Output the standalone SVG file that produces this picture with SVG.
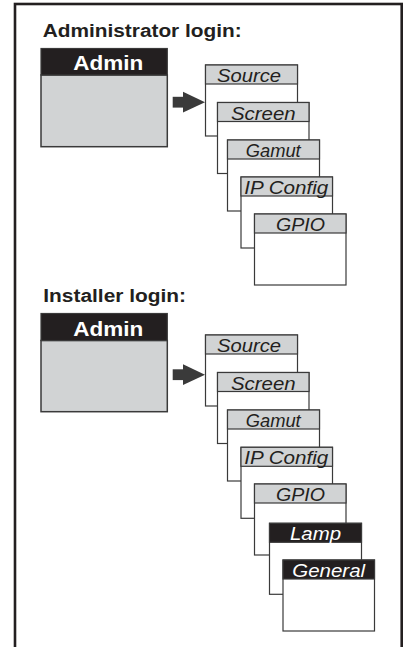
<svg xmlns="http://www.w3.org/2000/svg" width="409" height="647" viewBox="0 0 409 647">
<style>
.frame{fill:#ffffff;stroke:#231f20;stroke-width:2.6}
.title{font-family:"Liberation Sans",Arial,sans-serif;font-weight:bold;font-size:18px;fill:#231f20}
.admhead{fill:#231f20;stroke:#3a3a3a;stroke-width:1.2}
.admbody{fill:#d1d3d4;stroke:#3a3a3a;stroke-width:1.5}
.admtxt{font-family:"Liberation Sans",Arial,sans-serif;font-weight:bold;font-size:21px;fill:#ffffff;text-anchor:middle}
.wbody{fill:#ffffff;stroke:#3a3a3a;stroke-width:1.2}
.whead{fill:#d1d3d4;stroke:#3a3a3a;stroke-width:1.2}
.wheadd{fill:#231f20;stroke:#3a3a3a;stroke-width:1.2}
.wtxt{font-family:"Liberation Sans",Arial,sans-serif;font-style:italic;font-size:19px;fill:#231f20;text-anchor:middle}
.wtxtd{font-family:"Liberation Sans",Arial,sans-serif;font-style:italic;font-size:19px;fill:#ffffff;text-anchor:middle}
.arrow{fill:#3a3a3a}
</style>
<rect class="frame" x="15" y="4" width="386.7" height="700"/>

<text class="title" x="42.7" y="37.3" textLength="199" lengthAdjust="spacingAndGlyphs">Administrator login:</text>
<text class="title" x="43.3" y="301.7" textLength="142.7" lengthAdjust="spacingAndGlyphs">Installer login:</text>

<g id="admin1">
<rect class="admbody" x="41" y="75" width="126.3" height="71.7"/>
<rect class="admhead" x="41" y="48.5" width="126.3" height="26.5"/>
<text class="admtxt" x="108.3" y="69.5" textLength="70" lengthAdjust="spacingAndGlyphs">Admin</text>
</g>
<g id="admin2">
<rect class="admbody" x="41" y="340.5" width="126.3" height="71.2"/>
<rect class="admhead" x="41" y="313.5" width="126.3" height="27"/>
<text class="admtxt" x="108.3" y="335.7" textLength="70" lengthAdjust="spacingAndGlyphs">Admin</text>
</g>

<g id="connectors">
<g id="arrow1"><rect class="arrow" x="172.7" y="96.8" width="11" height="10.8"/><polygon class="arrow" points="183,91.8 205,102.2 183,112.6"/></g>
<g id="arrow2"><rect class="arrow" x="172.7" y="369.3" width="11" height="10.8"/><polygon class="arrow" points="183,364.3 205,374.7 183,385.1"/></g>
</g>

<g id="s1-source"><rect class="wbody" x="205.5" y="65" width="92" height="71"/><rect class="whead" x="205.5" y="65" width="92" height="19"/><text class="wtxt" x="249" y="82" textLength="64" lengthAdjust="spacingAndGlyphs">Source</text></g>
<g id="s1-screen"><rect class="wbody" x="217.5" y="102.5" width="91.5" height="71"/><rect class="whead" x="217.5" y="102.5" width="91.5" height="19"/><text class="wtxt" x="263.3" y="119.5" textLength="64.7" lengthAdjust="spacingAndGlyphs">Screen</text></g>
<g id="s1-gamut"><rect class="wbody" x="227.5" y="140" width="92" height="71"/><rect class="whead" x="227.5" y="140" width="92" height="19"/><text class="wtxt" x="273.2" y="157" textLength="55" lengthAdjust="spacingAndGlyphs">Gamut</text></g>
<g id="s1-ipconfig"><rect class="wbody" x="241" y="177" width="91.5" height="71"/><rect class="whead" x="241" y="177" width="91.5" height="19"/><text class="wtxt" x="286.3" y="194" textLength="84" lengthAdjust="spacingAndGlyphs">IP Config</text></g>
<g id="s1-gpio"><rect class="wbody" x="254.5" y="214" width="91.5" height="71"/><rect class="whead" x="254.5" y="214" width="91.5" height="19"/><text class="wtxt" x="300.5" y="231" textLength="49" lengthAdjust="spacingAndGlyphs">GPIO</text></g>

<g id="s2-source"><rect class="wbody" x="205.5" y="335" width="92" height="71"/><rect class="whead" x="205.5" y="335" width="92" height="19"/><text class="wtxt" x="249" y="352" textLength="64" lengthAdjust="spacingAndGlyphs">Source</text></g>
<g id="s2-screen"><rect class="wbody" x="217.5" y="372.5" width="91.5" height="71"/><rect class="whead" x="217.5" y="372.5" width="91.5" height="19"/><text class="wtxt" x="263.3" y="389.5" textLength="64.7" lengthAdjust="spacingAndGlyphs">Screen</text></g>
<g id="s2-gamut"><rect class="wbody" x="227.5" y="410" width="92" height="71"/><rect class="whead" x="227.5" y="410" width="92" height="19"/><text class="wtxt" x="273.2" y="427" textLength="55" lengthAdjust="spacingAndGlyphs">Gamut</text></g>
<g id="s2-ipconfig"><rect class="wbody" x="241" y="447.3" width="91.5" height="71"/><rect class="whead" x="241" y="447.3" width="91.5" height="19"/><text class="wtxt" x="286.3" y="464.3" textLength="84" lengthAdjust="spacingAndGlyphs">IP Config</text></g>
<g id="s2-gpio"><rect class="wbody" x="254.5" y="484" width="91.5" height="71"/><rect class="whead" x="254.5" y="484" width="91.5" height="19"/><text class="wtxt" x="300.5" y="501" textLength="49" lengthAdjust="spacingAndGlyphs">GPIO</text></g>
<g id="s2-lamp"><rect class="wbody" x="269.5" y="523.3" width="92" height="71"/><rect class="wheadd" x="269.5" y="523.3" width="92" height="19"/><text class="wtxtd" x="315.5" y="539.5" textLength="51" lengthAdjust="spacingAndGlyphs">Lamp</text></g>
<g id="s2-general"><rect class="wbody" x="283" y="560" width="91.5" height="71"/><rect class="wheadd" x="283" y="560" width="91.5" height="19"/><text class="wtxtd" x="328.7" y="577" textLength="72.7" lengthAdjust="spacingAndGlyphs">General</text></g>
</svg>
